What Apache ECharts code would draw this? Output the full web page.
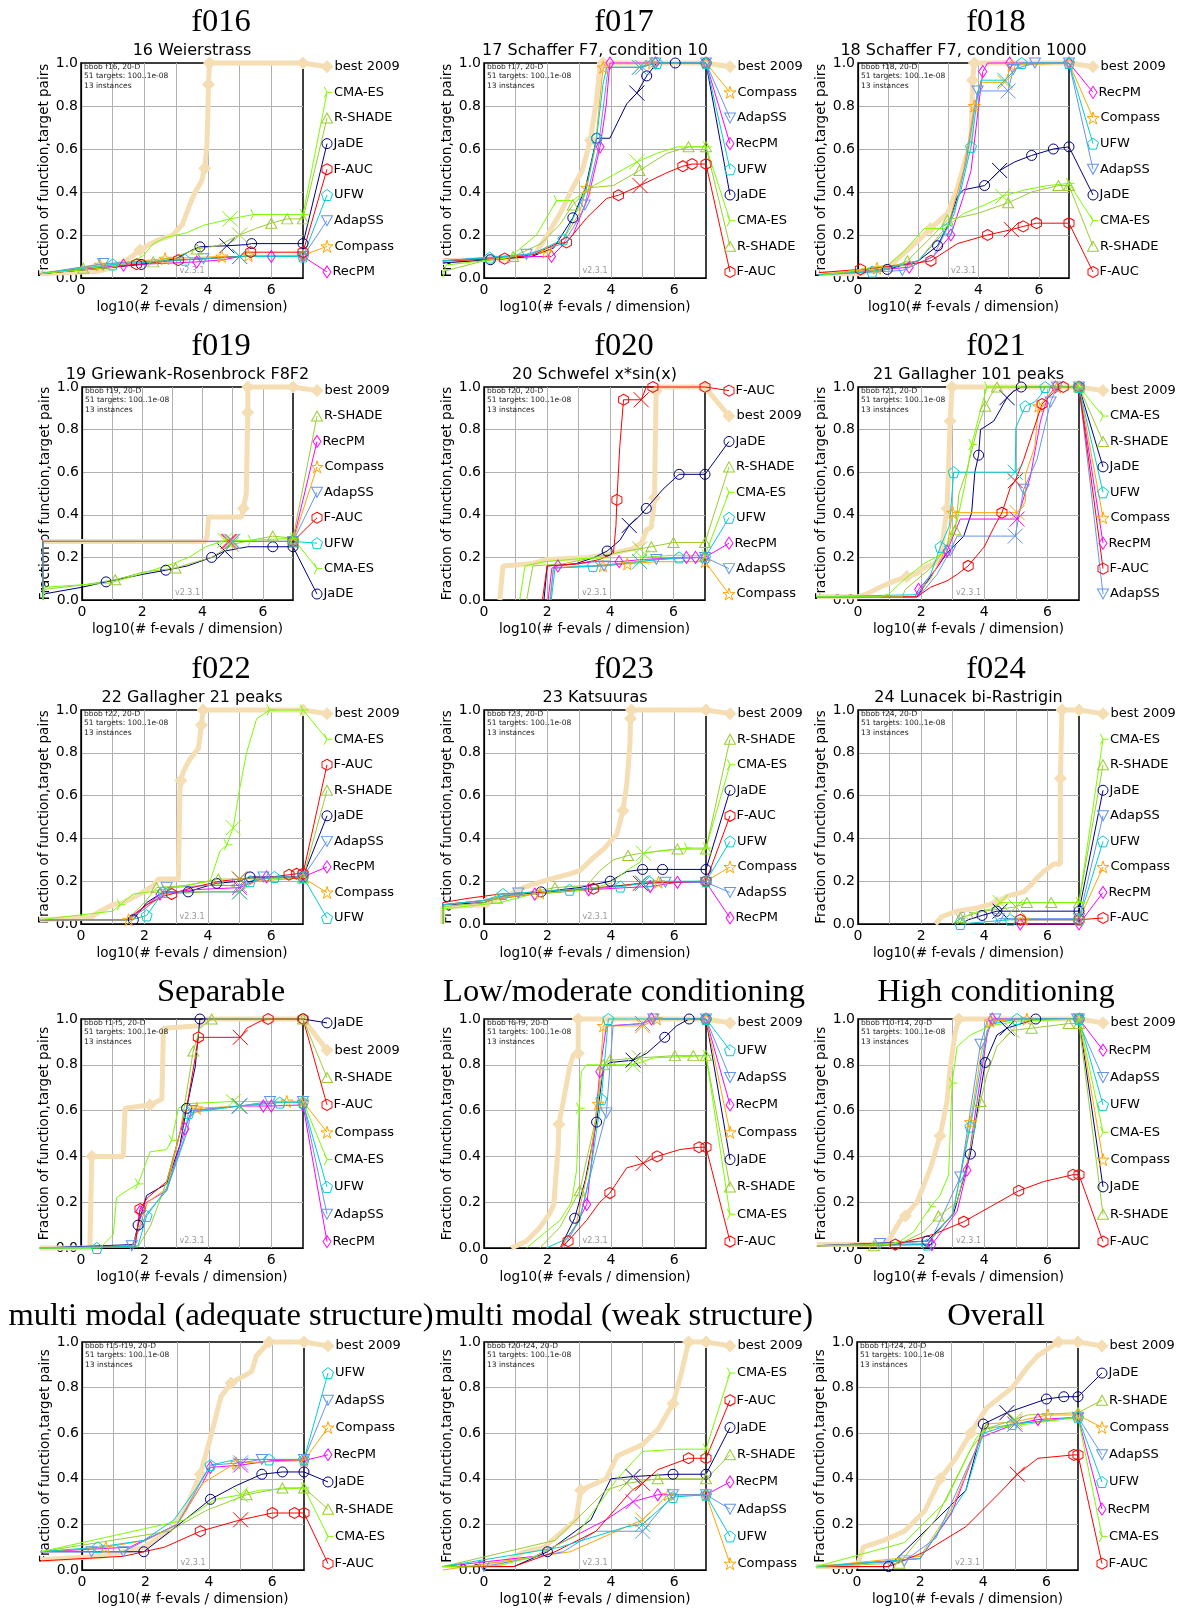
<!DOCTYPE html>
<html>
<head>
<meta charset="utf-8">
<title>bbob 20-D runtime distributions</title>
<script src="https://cdn.jsdelivr.net/npm/echarts@6/dist/echarts.min.js"></script>
<style>
  html, body { margin: 0; padding: 0; background: #fff; }
  #c { width: 1184px; height: 1612px; }
</style>
</head>
<body>
<div id="c"></div>
<script>
// ---------------------------------------------------------------------------
// Data. Every curve is a list of [log10(#f-evals / dimension), fraction, mark]
// where mark 1 = algorithm marker, mark 2 = budget cross.
// Curves of a panel are listed in the order of `algorithms`.
// ---------------------------------------------------------------------------
const algorithms = ['best 2009', 'JaDE', 'RecPM', 'Compass', 'AdapSS', 'F-AUC', 'R-SHADE', 'UFW', 'CMA-ES'];

const panelTitles = ['f016', 'f017', 'f018', 'f019', 'f020', 'f021', 'f022', 'f023', 'f024',
  'Separable', 'Low/moderate conditioning', 'High conditioning',
  'multi modal (adequate structure)', 'multi modal (weak structure)', 'Overall'];
const panelSubtitles = ['16 Weierstrass', '17 Schaffer F7, condition 10', '18 Schaffer F7, condition 1000',
  '19 Griewank-Rosenbrock F8F2', '20 Schwefel x*sin(x)', '21 Gallagher 101 peaks',
  '22 Gallagher 21 peaks', '23 Katsuuras', '24 Lunacek bi-Rastrigin', '', '', '', '', '', ''];
const panelInfo = ['bbob f16, 20-D', 'bbob f17, 20-D', 'bbob f18, 20-D', 'bbob f19, 20-D', 'bbob f20, 20-D',
  'bbob f21, 20-D', 'bbob f22, 20-D', 'bbob f23, 20-D', 'bbob f24, 20-D', 'bbob f1-f5, 20-D',
  'bbob f6-f9, 20-D', 'bbob f10-f14, 20-D', 'bbob f15-f19, 20-D', 'bbob f20-f24, 20-D', 'bbob f1-f24, 20-D'];
const targetsNote = '51 targets: 100..1e-08';
const instancesNote = '13 instances';
const versionNote = 'v2.3.1';
const xTicks = [0, 2, 4, 6];

const f016Curves = [
  [[-1.3,0.02],[0.5,0.03],[1.0,0.05],[1.5,0.09],[1.86,0.13,1],[2.2,0.16],[2.5,0.18],[2.9,0.2],[3.2,0.25],[3.4,0.33],[3.6,0.4],[3.8,0.45],[3.9,0.51,1],[3.97,0.62],[4.0,0.76],[4.02,0.9,1],[4.05,1,1],[7,1,1]],
  [[-1.3,0.02],[1.0,0.05],[1.9,0.063,1],[3.0,0.09],[3.5,0.13],[3.75,0.145,1],[4.6,0.15,2],[5.2,0.155],[5.38,0.16,1],[7,0.16,1]],
  [[-1.3,0.02],[1.34,0.06,1],[3.65,0.075,1],[4.5,0.085],[5.0,0.1,2],[6.0,0.1,1],[7,0.1,1]],
  [[-1.3,0.02],[0.6,0.062,1],[2.65,0.09,1],[4.44,0.1,1],[5.0,0.1,2],[5.28,0.105,1],[7,0.105,1]],
  [[-1.3,0.02],[0.7,0.067,1],[3.86,0.09,1],[5.0,0.1,2],[7,0.1,1]],
  [[-1.3,0.02],[1.0,0.05],[1.75,0.064,1],[3.07,0.083,1],[4.0,0.09],[5.0,0.1,2],[5.2,0.12],[5.35,0.12,1],[7,0.12,1]],
  [[-1.3,0.02],[0.07,0.045,1],[1.0,0.06],[2.28,0.075,1],[3.0,0.1],[3.65,0.135,1],[4.3,0.15],[5.0,0.2,2],[5.5,0.23],[6.0,0.255,1],[6.5,0.275,1],[7,0.275,1]],
  [[-1.3,0.02],[1.0,0.063,1],[3.28,0.085,1],[4.5,0.095],[5.0,0.1,2],[7,0.1,1]],
  [[-1.3,0.02],[1.0,0.05],[1.8,0.09],[1.97,0.105],[2.28,0.16],[2.7,0.19],[3.33,0.21],[3.86,0.245],[4.28,0.26],[4.7,0.275,2],[5.44,0.295,1],[7,0.295,1]]
];
const f016Order = ['best 2009', 'CMA-ES', 'R-SHADE', 'JaDE', 'F-AUC', 'UFW', 'AdapSS', 'Compass', 'RecPM'];

const f017Curves = [
  [[-1.3,0.08],[0.8,0.09],[1.6,0.11],[2.0,0.2],[2.4,0.3],[2.8,0.42],[3.1,0.5],[3.35,0.64,1],[3.55,0.83],[3.65,0.98],[3.75,1,1],[7,1,1]],
  [[-1.3,0.07],[0.2,0.085,1],[1.5,0.1],[2.2,0.14],[2.8,0.28,1],[3.2,0.42],[3.55,0.65,1],[3.97,0.65],[4.2,0.72],[4.5,0.81],[4.82,0.86,2],[5.13,0.94,1],[5.45,1],[6.03,1,1],[7,1,1]],
  [[-1.3,0.08],[1.0,0.1],[2.13,0.1,1],[2.8,0.2],[3.3,0.38],[3.66,0.61,1],[3.85,0.8],[3.97,1,1],[5.4,1,1],[7,1,1]],
  [[-1.3,0.08],[0.5,0.09],[1.97,0.12,1],[2.5,0.18],[3.0,0.3],[3.24,0.42,1],[3.5,0.6],[3.7,0.9],[3.76,0.98,1],[4.9,0.98,2],[5.3,1,1],[7,1,1]],
  [[-1.3,0.08],[1.34,0.11,1],[2.5,0.16],[3.0,0.28],[3.18,0.34,1],[3.6,0.6],[3.85,0.9],[3.92,0.98],[5.0,0.98,2],[5.4,1,1],[7,1,1]],
  [[-1.3,0.08],[0.65,0.09,1],[1.6,0.11],[2.29,0.16],[2.6,0.165,1],[3.24,0.28],[3.87,0.37],[4.24,0.385,1],[4.92,0.43,2],[5.77,0.49],[6.27,0.52,1],[6.56,0.53,1],[7,0.53,1]],
  [[-1.3,0.03],[0,0.08],[0.92,0.1,1],[1.8,0.16],[2.4,0.25],[2.8,0.34,1],[3.34,0.42],[4.08,0.43],[4.9,0.5,1],[5.77,0.58],[6.45,0.61,1],[7,0.61,1]],
  [[-1.3,0.08],[0.18,0.095,1],[1.5,0.11],[2.5,0.18,1],[3.2,0.4],[3.55,0.65,1],[3.75,0.9],[3.87,0.98],[4.9,0.98,2],[5.45,1,1],[7,1,1]],
  [[-1.3,0],[-1.2,0.06],[0.8,0.095],[1.65,0.2],[2.29,0.36,1],[2.8,0.36],[3.34,0.42],[4.08,0.48],[4.82,0.54,2],[5.45,0.58],[6.1,0.61],[7,0.61,1]]
];
const f017Order = ['best 2009', 'Compass', 'AdapSS', 'RecPM', 'UFW', 'JaDE', 'CMA-ES', 'R-SHADE', 'F-AUC'];

const f018Curves = [
  [[-1.3,0.02],[0,0.02],[1.0,0.05],[1.97,0.17],[2.4,0.23,1],[2.97,0.3],[3.3,0.42],[3.5,0.52],[3.75,0.64],[3.8,0.92,1],[3.86,1,1],[7,1,1]],
  [[-1.3,0.015],[0.97,0.04,1],[2.0,0.08],[2.64,0.15,1],[3.0,0.25],[3.3,0.38],[3.5,0.41],[4.2,0.43,1],[4.7,0.5,2],[5.2,0.54],[5.76,0.57,1],[6.48,0.6,1],[7,0.61,1]],
  [[-1.3,0.015],[1.7,0.05,1],[2.5,0.1],[3.08,0.2,1],[3.5,0.38],[3.75,0.5],[4.0,0.8],[4.14,0.96,1],[4.3,1],[5.03,1,1],[7,1,1]],
  [[-1.3,0.015],[0.63,0.045,1],[2.0,0.08],[3.0,0.25],[3.5,0.5],[3.86,0.8,1],[4.08,0.91],[4.87,0.91,2],[5.1,0.99,1],[7,1,1]],
  [[-1.3,0.015],[1.47,0.035,1],[2.5,0.1],[3.2,0.3],[3.6,0.55],[3.97,0.87,1],[4.98,0.87,2],[5.15,0.97,1],[5.87,1,1],[7,1,1]],
  [[-1.3,0.025],[0.08,0.04,1],[1.5,0.06],[2.42,0.08,1],[3.3,0.16],[4.3,0.2,1],[5.09,0.225,2],[5.48,0.24,1],[5.92,0.255,1],[7,0.255,1]],
  [[-1.3,0.015],[1.0,0.04],[1.64,0.08,1],[2.5,0.2],[2.97,0.27,1],[3.97,0.3],[4.98,0.35,1],[5.76,0.4],[6.65,0.43,1],[7,0.43,1]],
  [[-1.3,0.015],[0.47,0.03,1],[2.0,0.08],[2.97,0.23,1],[3.4,0.4],[3.75,0.61,1],[3.97,0.85],[4.08,0.92],[4.87,0.92,2],[5.43,1,1],[7,1,1]],
  [[-1.3,0.01],[1.0,0.06],[1.5,0.12],[2.2,0.23],[2.86,0.23],[3.5,0.3],[4.2,0.34],[4.8,0.38,2],[5.53,0.41],[6.3,0.43],[7,0.44,1]]
];
const f018Order = ['best 2009', 'RecPM', 'Compass', 'UFW', 'AdapSS', 'JaDE', 'CMA-ES', 'R-SHADE', 'F-AUC'];

const f019Curves = [
  [[-1.3,0.275],[4.1,0.275],[4.15,0.3],[4.2,0.39],[5.3,0.39],[5.35,0.43,1],[5.45,0.5],[5.5,0.88,1],[5.5,1,1],[7,1,1]],
  [[-1.3,0.02],[-1.2,0.03],[0,0.06],[0.8,0.085,1],[2.0,0.12],[2.78,0.14,1],[3.5,0.16],[4.3,0.2,1],[4.74,0.23,2],[5.5,0.25],[6.33,0.25,1],[7,0.25,1]],
  [[-1.3,0],[-1.3,0.275],[4.9,0.275,2],[7,0.275,1]],
  [[-1.3,0],[-1.3,0.275],[4.95,0.275,2],[7,0.275,1]],
  [[-1.3,0],[-1.3,0.275],[5.0,0.275,2],[7,0.275,1]],
  [[-1.3,0],[-1.3,0.275],[4.85,0.275,2],[7,0.275,1]],
  [[-1.3,0],[-1.25,0.05],[0,0.07],[1.1,0.095,1],[2.0,0.13],[3.1,0.15,1],[3.8,0.18],[4.3,0.2],[4.96,0.26,2],[5.6,0.28],[6.33,0.3,1],[7,0.29,1]],
  [[-1.3,0],[-1.3,0.275],[5.0,0.275,2],[7,0.275,1]],
  [[-1.3,0],[-1.25,0.06],[0.93,0.08],[2.0,0.125],[3.0,0.17],[3.55,0.2],[4.1,0.25],[4.74,0.28,2],[5.6,0.28,1],[7,0.29,1]]
];
const f019Order = ['best 2009', 'R-SHADE', 'RecPM', 'Compass', 'AdapSS', 'F-AUC', 'UFW', 'CMA-ES', 'JaDE'];

const f020Curves = [
  [[0.5,0],[0.6,0.16],[1.5,0.17],[2.0,0.19],[3.3,0.2],[4.1,0.22],[4.7,0.24],[5.0,0.27],[5.15,0.33],[5.3,0.34],[5.4,0.48,1],[5.45,0.98,1],[5.5,1],[7,1,1]],
  [[1.9,0],[2.0,0.16],[2.9,0.17],[3.5,0.2],[3.9,0.23,1],[4.3,0.28],[4.6,0.35,2],[4.9,0.39],[5.14,0.43,1],[5.67,0.52],[6.18,0.59,1],[7,0.59,1]],
  [[2.03,0],[2.15,0.15],[2.34,0.16,1],[3.5,0.18],[4.28,0.18,1],[5.0,0.19],[6.41,0.2,1],[6.7,0.2,1],[7,0.2,1]],
  [[2.08,0],[2.2,0.15],[3.0,0.16],[3.77,0.16,1],[4.54,0.17,1],[5.5,0.18],[7,0.18,1]],
  [[2.1,0],[2.2,0.15],[3.8,0.16,1],[4.9,0.18],[5.46,0.19,1],[7,0.2,1]],
  [[1.85,0],[2.0,0.16],[3.0,0.17],[3.66,0.19],[4.1,0.22],[4.18,0.35],[4.21,0.47,1],[4.3,0.72],[4.42,0.94,1],[4.98,0.94,2],[5.14,1],[5.35,1,1],[7,1,1]],
  [[1.35,0],[1.55,0.16],[2.5,0.17],[3.5,0.2],[4.5,0.23],[4.93,0.24,2],[5.3,0.25,1],[6.0,0.27,1],[7,0.27,1]],
  [[2.13,0],[2.25,0.15],[3.45,0.16,1],[4.93,0.18,2],[6.18,0.2,1],[7,0.2,1]],
  [[1.13,0],[1.3,0.16],[1.9,0.18],[3.14,0.195],[4.5,0.2],[5.0,0.2,2],[6.0,0.21],[7,0.21,1]]
];
const f020Order = ['F-AUC', 'best 2009', 'JaDE', 'R-SHADE', 'CMA-ES', 'UFW', 'RecPM', 'AdapSS', 'Compass'];

const f021Curves = [
  [[-1.3,0.015],[0,0.015],[0.3,0.03],[0.7,0.06],[1.0,0.08],[1.55,0.11,1],[1.87,0.125],[2.08,0.15],[2.4,0.17],[2.6,0.19],[2.82,0.43,1],[2.92,0.84,1],[2.98,1,1],[7,1,1]],
  [[-1.3,0.015],[1.87,0.015],[2.3,0.11],[2.82,0.22],[3.35,0.3],[3.6,0.41],[3.7,0.6],[3.82,0.68,1],[3.88,0.8],[4.3,0.84],[4.72,0.95,2],[4.93,0.98],[5.17,1,1],[7,1,1]],
  [[-1.3,0.015],[1.8,0.015],[1.92,0.05,1],[2.5,0.15],[2.82,0.23,1],[3.24,0.38],[5.04,0.38,2],[5.46,0.58],[5.78,0.84],[6.0,0.95],[6.25,1,1],[7,1,1]],
  [[-1.3,0.015],[1.8,0.015],[2.3,0.1],[2.82,0.25],[3.0,0.41,1],[5.04,0.41,2],[5.3,0.46],[5.31,0.59],[5.6,0.72],[5.72,0.91,1],[6.15,0.98],[6.3,1,1],[7,1,1]],
  [[-1.3,0.015],[1.92,0.015],[2.5,0.12],[2.92,0.23,1],[3.14,0.3],[4.98,0.3,2],[5.25,0.52,1],[5.67,0.66],[6.1,0.93,1],[6.3,1,1],[7,1,1]],
  [[-1.3,0.015],[1.87,0.015],[2.3,0.06],[2.82,0.09],[3.14,0.12],[3.49,0.16,1],[4.0,0.25],[4.3,0.34],[4.56,0.41,1],[4.83,0.53],[4.98,0.56,2],[5.25,0.66],[5.56,0.8],[5.83,0.92,1],[6.3,0.99],[6.5,1,1],[7,1,1]],
  [[-1.3,0.015],[1.4,0.015],[1.5,0.05],[2.3,0.15],[2.82,0.25],[3.08,0.33,1],[3.2,0.5],[3.45,0.61],[3.77,0.8],[4.03,0.91,1],[4.2,0.96],[4.4,1,1],[7,1,1]],
  [[-1.3,0.015],[1.87,0.025],[2.3,0.12],[2.61,0.25,1],[2.9,0.35],[3.03,0.6,1],[4.98,0.6,2],[5.0,0.81],[5.3,0.91,1],[5.6,0.93],[5.78,0.96],[5.93,1,1],[7,1,1]],
  [[-1.3,0.015],[0.7,0.015],[1.0,0.03],[1.34,0.08],[1.66,0.12],[2.08,0.17],[2.7,0.22],[3.14,0.37],[3.4,0.55],[3.6,0.73,1],[3.93,0.92],[4.09,1,1],[7,1,1]]
];
const f021Order = ['best 2009', 'CMA-ES', 'R-SHADE', 'JaDE', 'UFW', 'Compass', 'RecPM', 'F-AUC', 'AdapSS'];

const f022Curves = [
  [[-1.3,0.02],[0.3,0.03],[0.6,0.06],[1.0,0.09],[1.33,0.1],[1.86,0.14],[2.28,0.18],[2.44,0.21],[3.07,0.21],[3.12,0.63],[3.15,0.67,1],[3.22,0.71],[3.43,0.77],[3.7,0.82],[3.8,0.93,1],[3.85,1,1],[7,1,1]],
  [[-1.3,0.02],[1.4,0.02],[1.65,0.02,1],[2.07,0.1],[2.6,0.15],[3.38,0.15,1],[3.8,0.17],[4.28,0.19,1],[5.0,0.2],[5.33,0.22,1],[7,0.22,1]],
  [[-1.3,0.02],[1.5,0.02],[2.0,0.08],[2.49,0.14,1],[3.5,0.16],[5.0,0.17,2],[5.85,0.22,1],[7,0.22,1]],
  [[-1.3,0.02],[1.5,0.02,1],[2.0,0.07],[2.6,0.14],[4.0,0.15],[5.0,0.15,2],[5.5,0.2],[7,0.215,1]],
  [[-1.3,0.02],[1.5,0.02],[2.1,0.08],[2.7,0.17,1],[4.0,0.18],[5.0,0.18,2],[5.75,0.22,1],[7,0.22,1]],
  [[-1.3,0.02],[1.44,0.02],[2.07,0.09],[2.6,0.13],[2.86,0.14,1],[3.5,0.17],[4.38,0.2],[5.0,0.21,2],[6.0,0.22],[6.56,0.23,1],[6.8,0.235,1],[7,0.235,1]],
  [[-1.3,0.02],[1.44,0.02],[2.0,0.1],[2.38,0.17,1],[3.3,0.18],[4.33,0.21,1],[5.0,0.21,2],[7,0.215,1]],
  [[-1.3,0.02],[1.6,0.02],[2.07,0.04,1],[2.6,0.15,1],[4.0,0.15],[5.0,0.15,2],[5.33,0.2,1],[6.1,0.22,1],[7,0.22,1]],
  [[-1.3,0.02],[1.0,0.06],[1.23,0.09,1],[1.65,0.14],[2.17,0.15],[3.33,0.18],[4.07,0.2],[4.38,0.34],[4.6,0.37,1],[4.8,0.45,2],[5.0,0.63],[5.22,0.8],[5.54,0.96],[5.95,1,1],[7,1,1]]
];
const f022Order = ['best 2009', 'CMA-ES', 'F-AUC', 'R-SHADE', 'JaDE', 'AdapSS', 'RecPM', 'Compass', 'UFW'];

const f023Curves = [
  [[-1.3,0],[-1.3,0.08],[0,0.09],[0.07,0.1,1],[0.7,0.13],[1.23,0.17],[1.87,0.2],[2.6,0.23],[3.03,0.25],[3.45,0.31],[3.77,0.35],[4.19,0.42],[4.38,0.53,1],[4.5,0.65],[4.6,0.84],[4.62,0.96,1],[4.65,1,1],[7,1,1]],
  [[-1.3,0],[-1.3,0.09],[0,0.1],[0.6,0.13],[1.8,0.15,1],[3.0,0.17],[3.98,0.2,1],[4.5,0.245],[5.0,0.255,1],[5.63,0.255,1],[7,0.255,1]],
  [[-1.3,0],[-1.3,0.09],[0,0.11],[1.6,0.14,1],[3.3,0.16,1],[4.5,0.17],[5.24,0.175,1],[6.1,0.195,1],[7,0.195,1]],
  [[-1.3,0],[-1.3,0.09],[0,0.11],[1.76,0.145,1],[3.5,0.17],[5.0,0.19,2],[5.5,0.195,1],[7,0.2,1]],
  [[-1.3,0],[-1.3,0.09],[0,0.11],[1.08,0.145,1],[2.7,0.16],[4.5,0.18],[5.0,0.19,2],[5.72,0.195,1],[7,0.195,1]],
  [[-1.3,0],[-1.3,0.1],[-0.5,0.12],[0.5,0.14],[2.0,0.15],[3.45,0.165,1],[4.93,0.19,2],[7,0.2,1]],
  [[-1.3,0],[-1.3,0.08],[0,0.1],[0.4,0.12,1],[1.5,0.15],[2.24,0.17,1],[3.24,0.18],[3.66,0.25],[4.08,0.3],[4.54,0.32,1],[4.93,0.33],[6.1,0.35,1],[7,0.35,1]],
  [[-1.3,0],[-1.3,0.09],[0,0.11],[0.6,0.14,1],[2.7,0.16,1],[4.3,0.175,1],[5.0,0.19,2],[5.19,0.2,1],[7,0.2,1]],
  [[-1.3,0],[-1.3,0.07],[0.5,0.1],[1.55,0.14],[3.24,0.16],[3.98,0.19],[4.5,0.25],[4.93,0.29],[5.03,0.33,2],[5.45,0.34],[6.4,0.355,1],[7,0.355,1]]
];
const f023Order = ['best 2009', 'R-SHADE', 'CMA-ES', 'JaDE', 'F-AUC', 'UFW', 'Compass', 'AdapSS', 'RecPM'];

const f024Curves = [
  [[2.45,0],[2.66,0.035],[3.14,0.06],[3.77,0.075],[4.4,0.1,1],[4.72,0.13],[5.25,0.15],[5.46,0.18],[5.67,0.215],[5.88,0.245],[6.2,0.28],[6.41,0.28],[6.41,0.68,1],[6.46,1,1],[7,1,1]],
  [[3.24,0],[3.5,0.02],[3.93,0.04,1],[4.4,0.06,1],[4.5,0.06,2],[7,0.06,1]],
  [[5.14,0,1],[7,0,1]],
  [[4.6,0.02],[5.25,0.02,1],[7,0.02,1]],
  [[4.3,0],[4.46,0.025,1],[7,0.025,1]],
  [[5.14,0.02,1],[7,0.02,1]],
  [[3.14,0],[3.24,0.03,1],[3.98,0.06],[5.0,0.08,2],[5.35,0.1,1],[6.12,0.1,1],[7,0.1,1]],
  [[3.24,0,1],[4.0,0.01],[4.83,0.02,1],[7,0.02,1]],
  [[3.14,0],[3.56,0.05],[4.19,0.07],[4.5,0.1,2],[4.8,0.1],[7,0.1,1]]
];
const f024Order = ['best 2009', 'CMA-ES', 'R-SHADE', 'JaDE', 'AdapSS', 'UFW', 'Compass', 'RecPM', 'F-AUC'];

const separableCurves = [
  [[-1.3,0],[0.28,0],[0.34,0.4,1],[1.33,0.4],[1.39,0.61],[2.18,0.625,1],[2.55,0.65],[2.6,0.96],[3.75,0.97],[3.96,1],[7,1,1]],
  [[-1.3,0],[1.65,0.015],[1.8,0.1,1],[2.07,0.23],[2.7,0.28],[3.12,0.45],[3.33,0.61,1],[3.6,0.79],[3.75,1,1],[7,1,1]],
  [[-1.3,0],[1.7,0.005],[1.86,0.16,1],[2.07,0.2],[2.7,0.25],[3.28,0.52,1],[3.49,0.6],[5.0,0.62,2],[5.75,0.62,1],[6.0,0.62,1],[7,0.625,1]],
  [[-1.3,0],[1.6,0.005],[1.86,0.1],[2.1,0.2],[2.7,0.26],[3.12,0.5],[3.28,0.6],[3.65,0.61,1],[5.0,0.62,2],[6.49,0.64,1],[7,0.64,1]],
  [[-1.3,0],[1.6,0.01,1],[2.07,0.15],[2.7,0.25],[3.33,0.5],[3.49,0.6,1],[5.0,0.62,2],[5.96,0.64,1],[7,0.64,1]],
  [[-1.3,0],[1.7,0.005],[1.86,0.17,1],[2.1,0.22],[2.7,0.29],[3.33,0.61],[3.6,0.83],[3.7,0.92,1],[5.02,0.92,2],[5.23,0.96],[5.65,0.99],[5.9,1,1],[7,1,1]],
  [[-1.3,0],[1.8,0.005],[2.2,0.1],[2.7,0.29],[3.12,0.5],[3.54,0.86,1],[3.75,0.96],[4.12,1,1],[7,1,1]],
  [[-1.3,0],[0.5,0,1],[1.8,0.01],[2.07,0.14,1],[2.7,0.26],[3.23,0.47],[3.39,0.59,1],[5.0,0.62,2],[6.27,0.635,1],[7,0.635,1]],
  [[-1.3,0],[0.6,0],[1.02,0.06],[1.12,0.22],[1.44,0.25],[1.8,0.28,1],[2.18,0.42],[2.7,0.43],[2.86,0.47,1],[3.07,0.61],[3.33,0.63],[4.8,0.64,2],[7,0.64,1]]
];
const separableOrder = ['JaDE', 'best 2009', 'R-SHADE', 'F-AUC', 'Compass', 'CMA-ES', 'UFW', 'AdapSS', 'RecPM'];

const lowCondCurves = [
  [[0.86,0],[1.34,0.03],[1.76,0.09],[2.07,0.15],[2.2,0.19],[2.34,0.44],[2.36,0.54,1],[2.5,0.64],[2.7,0.79],[2.81,0.84],[2.97,0.85,1],[2.97,1,1],[7,1,1]],
  [[2.4,0],[2.86,0.13,1],[3.2,0.3],[3.55,0.55,1],[3.76,0.79],[3.97,0.81],[4.7,0.82,2],[5.13,0.85],[5.7,0.92,1],[6.07,0.97],[6.47,1,1],[7,1,1]],
  [[2.4,0],[2.9,0.1],[3.24,0.19,1],[3.45,0.45],[3.65,0.77,1],[3.86,0.97],[5.0,0.98,2],[5.28,1,1],[7,1,1]],
  [[2.4,0],[2.9,0.1],[3.3,0.35],[3.6,0.63,1],[3.76,0.97,1],[5.0,0.97,2],[5.45,1,1],[7,1,1]],
  [[2.5,0],[3.0,0.12],[3.5,0.4],[3.86,0.59,1],[3.97,0.79],[4.07,0.97],[5.0,0.98,2],[5.34,1,1],[7,1,1]],
  [[2.4,0],[2.65,0.03,1],[3.23,0.12],[3.65,0.2],[3.97,0.24,1],[4.5,0.35],[5.02,0.37,2],[5.46,0.4,1],[6.18,0.43],[6.78,0.44,1],[7,0.44,1]],
  [[1.76,0],[2.39,0.09],[3.02,0.25,1],[3.5,0.55],[3.76,0.8,1],[3.97,0.82,1],[4.9,0.83,2],[6.02,0.84,1],[6.6,0.84,1],[7,0.84,1]],
  [[1.97,0],[2.6,0.04],[3.02,0.12],[3.34,0.32],[3.7,0.65,1],[3.92,1,1],[7,1,1]],
  [[1.34,0],[1.86,0.06],[2.39,0.12],[2.76,0.2],[2.92,0.34],[3.0,0.61,1],[3.07,0.77],[3.23,0.8],[3.86,0.8],[4.7,0.8,2],[5.34,0.83],[7,0.84,1]]
];
const lowCondOrder = ['best 2009', 'UFW', 'AdapSS', 'RecPM', 'Compass', 'JaDE', 'R-SHADE', 'CMA-ES', 'F-AUC'];

const highCondCurves = [
  [[-1.3,0.015],[0.8,0.015],[1.0,0.04],[1.34,0.12],[1.5,0.14,1],[1.87,0.2],[2.3,0.35],[2.6,0.49,1],[2.82,0.64],[2.92,0.79],[3.08,0.94],[3.19,1,1],[7,1,1]],
  [[-1.3,0.01],[2.19,0.03,1],[3.03,0.15],[3.56,0.41,1],[4.03,0.81,1],[4.4,0.93],[4.72,0.96,2],[5.63,1,1],[7,1,1]],
  [[-1.3,0.01],[2.34,0.015,1],[3.14,0.16],[3.45,0.34,1],[3.77,0.64],[4.09,0.93],[4.25,1,1],[7,1,1]],
  [[-1.3,0.01],[2.2,0.02],[3.0,0.15],[3.56,0.55,1],[3.9,0.85],[4.19,0.99,1],[5.35,1,1],[7,1,1]],
  [[-1.3,0.01],[0.7,0.02,1],[2.3,0.03],[3.24,0.31,1],[3.88,0.89,1],[4.09,0.99],[4.35,1,1],[6.94,1,1],[7,1,1]],
  [[-1.3,0.01],[1.18,0.015,1],[2.4,0.06],[3.35,0.115,1],[4.19,0.18],[5.09,0.25,1],[5.88,0.29],[6.81,0.32,1],[7,0.32,1]],
  [[-1.3,0.01],[0.5,0.01,1],[1.5,0.03],[2.08,0.07],[2.55,0.14,1],[3.14,0.2],[3.5,0.4],[3.88,0.64,1],[4.09,0.76],[4.4,0.88],[4.88,0.95,2],[5.5,0.96,1],[6.67,0.98,1],[7,0.98,1]],
  [[-1.3,0.01],[2.19,0.015,1],[3.0,0.15],[3.56,0.53,1],[4.09,0.95],[4.3,0.98],[5.04,1,1],[7,1,1]],
  [[-1.3,0.01],[1.0,0.015],[1.34,0.03],[1.76,0.07],[2.3,0.18,1],[2.6,0.23],[2.87,0.32],[2.98,0.72,1],[3.14,0.88],[3.56,0.93],[4.19,0.97],[5.04,0.99],[7,1,1]]
];
const highCondOrder = ['best 2009', 'RecPM', 'AdapSS', 'UFW', 'CMA-ES', 'Compass', 'JaDE', 'R-SHADE', 'F-AUC'];

const adequateCurves = [
  [[-1.3,0.045],[0.65,0.06],[1.95,0.1],[2.75,0.17],[3.24,0.26],[3.73,0.42,1],[4.05,0.58],[4.38,0.76],[4.7,0.82,1],[5.35,0.87],[5.5,0.94],[5.9,1,1],[7,1,1]],
  [[-1.3,0.08],[1.95,0.08,1],[3.24,0.22],[4.05,0.31,1],[4.86,0.37],[5.67,0.42,1],[6.32,0.43,1],[7,0.43,1]],
  [[-1.3,0.08],[1.5,0.1],[3.0,0.2],[3.8,0.38],[4.05,0.45,1],[5.0,0.46,2],[6.0,0.48],[7,0.48,1]],
  [[-1.3,0.08],[0.75,0.1,1],[2.0,0.13],[3.0,0.2],[3.8,0.38],[4.86,0.47,1],[7,0.48,1]],
  [[-1.3,0.08],[0.3,0.08,1],[1.3,0.08,1],[3.0,0.2],[4.05,0.46],[5.0,0.47,2],[5.67,0.485,1],[7,0.485,1]],
  [[-1.3,0.04],[1.3,0.06],[2.6,0.1],[3.73,0.17,1],[5.0,0.22,2],[6.0,0.25,1],[6.7,0.25,1],[7,0.25,1]],
  [[-1.3,0.08],[2.75,0.17],[3.9,0.26],[5.19,0.33,1],[6.32,0.36,1],[7,0.36,1]],
  [[-1.3,0.08],[0.5,0.1,1],[1.95,0.13],[2.9,0.22],[3.57,0.35],[4.05,0.46,1],[4.86,0.485],[5.9,0.485,1],[7,0.485,1]],
  [[-1.3,0.08],[3.24,0.22],[4.2,0.31],[5.0,0.33,2],[5.6,0.35],[7,0.36,1]]
];
const adequateOrder = ['best 2009', 'UFW', 'AdapSS', 'Compass', 'RecPM', 'JaDE', 'R-SHADE', 'CMA-ES', 'F-AUC'];

const weakCurves = [
  [[0,0.02],[0.6,0.03],[1.26,0.08],[1.9,0.1],[2.9,0.22],[3.05,0.35,1],[3.85,0.4],[4.2,0.5],[5.0,0.55],[5.5,0.62],[5.96,0.73,1],[6.2,0.85],[6.45,1,1],[7,1,1]],
  [[-1.3,0.015],[0.94,0.015],[2.0,0.08,1],[3.37,0.22],[4.0,0.4],[4.7,0.41,2],[5.96,0.42,1],[7,0.42,1]],
  [[-1.3,0.015],[1.6,0.06],[3.85,0.22],[4.7,0.3,2],[5.48,0.33,1],[7,0.33,1]],
  [[-1.3,0],[2.72,0.08],[4.5,0.19],[5.0,0.22,2],[5.8,0.33,1],[7,0.33,1]],
  [[-1.3,0.015],[0,0.015,1],[2.5,0.08],[3.53,0.17],[5.0,0.17,2],[5.96,0.33,1],[7,0.33,1]],
  [[-1.3,0.015],[0.94,0.015],[2.24,0.08],[3.53,0.17],[4.67,0.35],[5.0,0.38,2],[5.48,0.44],[6.45,0.49,1],[7,0.49,1]],
  [[-1.3,0.015],[2.24,0.13],[3.85,0.35],[4.5,0.38,2],[5.48,0.4,1],[7,0.4,1]],
  [[-1.3,0.015],[2.4,0.1],[4.5,0.19],[5.0,0.2,2],[5.96,0.32,1],[7,0.33,1]],
  [[-1.3,0.015],[0.5,0.02],[1.6,0.06],[2.9,0.15],[4.2,0.4],[5.0,0.52],[6.1,0.53],[7,0.53,1]]
];
const weakOrder = ['best 2009', 'CMA-ES', 'F-AUC', 'JaDE', 'R-SHADE', 'RecPM', 'AdapSS', 'UFW', 'Compass'];

const overallCurves = [
  [[-1.3,0.015],[0,0.015],[0.2,0.1],[0.85,0.13],[1.5,0.17],[2.15,0.26],[2.64,0.4,1],[3.13,0.49],[3.6,0.6,1],[4.1,0.71],[4.92,0.8],[5.4,0.89],[5.73,0.94],[6.38,1,1],[7,1,1]],
  [[-1.3,0.015],[1.0,0.015,1],[2.15,0.17],[3.45,0.35],[4.0,0.64,1],[4.75,0.69,2],[6.0,0.75,1],[6.55,0.76,1],[7,0.76,1]],
  [[-1.3,0.015],[2.0,0.05],[3.0,0.25],[3.9,0.58],[5.0,0.64,2],[5.73,0.66,1],[7,0.67,1]],
  [[-1.3,0.015],[2.0,0.06],[3.0,0.27],[4.1,0.64],[5.0,0.65,2],[6.05,0.68,1],[7,0.68,1]],
  [[-1.3,0.015],[1.5,0.04,1],[2.5,0.14],[3.5,0.45],[4.1,0.62],[5.0,0.64,2],[7,0.67,1]],
  [[-1.3,0.015],[1.0,0.015],[2.15,0.08],[3.45,0.19],[4.6,0.35],[5.08,0.42,2],[5.73,0.49],[6.87,0.505,1],[7,0.505,1]],
  [[-1.3,0.015],[1.34,0.03,1],[2.48,0.22],[3.6,0.53],[4.1,0.62,1],[5.0,0.66,2],[5.4,0.68],[7,0.69,1]],
  [[-1.3,0.015],[2.0,0.05],[3.45,0.35],[4.0,0.6],[4.92,0.64,1],[7,0.67,1]],
  [[-1.3,0.015],[1.5,0.12],[2.8,0.3],[3.78,0.58],[4.1,0.62],[5.4,0.64],[7,0.67,1]]
];
const overallOrder = ['best 2009', 'JaDE', 'R-SHADE', 'Compass', 'AdapSS', 'UFW', 'RecPM', 'CMA-ES', 'F-AUC'];

const panelCurves = [f016Curves, f017Curves, f018Curves, f019Curves, f020Curves, f021Curves,
  f022Curves, f023Curves, f024Curves, separableCurves, lowCondCurves, highCondCurves,
  adequateCurves, weakCurves, overallCurves];
const panelOrders = [f016Order, f017Order, f018Order, f019Order, f020Order, f021Order,
  f022Order, f023Order, f024Order, separableOrder, lowCondOrder, highCondOrder,
  adequateOrder, weakOrder, overallOrder];

// ---------------------------------------------------------------------------
// Layout and styling
// ---------------------------------------------------------------------------
// plot frame of each panel: [left, top, width, height] in px
const panelRects = [
  [81, 63, 222, 215], [484, 63, 222, 215], [858, 63, 211, 215],
  [82, 387, 211, 213], [484, 387, 221, 213], [858, 387, 221, 213],
  [81, 710, 222, 214], [484, 710, 222, 214], [858, 710, 221, 214],
  [81, 1019, 222, 229], [484, 1019, 222, 229], [858, 1019, 221, 229],
  [82, 1342, 222, 228], [484, 1342, 222, 228], [857, 1342, 221, 228]
];
const columnTitleX = [221, 624, 996];
const rowTitleY = [22, 346, 669, 992, 1316];

// the curves run past the frame (left start, legend connectors on the right),
// so they live on a wider, invisible coordinate system with the same scale
const X_EXT = [-1.5, 8.5], Y_EXT = [-0.1, 1.1];

const STAR = 'path://M0,-1L0.225,-0.309L0.951,-0.309L0.363,0.118L0.588,0.809L0,0.382L-0.588,0.809L-0.363,0.118L-0.951,-0.309L-0.225,-0.309Z';
const HEXAGON = 'path://M0,-1L0.866,-0.5L0.866,0.5L0,1L-0.866,0.5L-0.866,-0.5Z';
const PENTAGON = 'path://M0,-1L0.951,-0.309L0.588,0.809L-0.588,0.809L-0.951,-0.309Z';
const TRI_DOWN = 'path://M-1,-1L1,-1L0,1Z';
const TRI_UP = 'path://M0,-1L1,1L-1,1Z';
const TRI_RIGHT = 'path://M-1,0M0,0L1,0M0,0L-0.5,-0.866M0,0L-0.5,0.866';
const CROSS = 'path://M-1,-1L1,1M-1,1L1,-1';

const styles = {
  'best 2009': { color: '#f5deb3', width: 5, symbol: 'diamond', size: [12, 12], fill: true },
  'JaDE':      { color: '#000080', width: 1, symbol: 'circle', size: [10, 10] },
  'RecPM':     { color: '#ff00ff', width: 1, symbol: 'diamond', size: [8, 12] },
  'Compass':   { color: '#ffa500', width: 1, symbol: STAR, size: [12, 12] },
  'AdapSS':    { color: '#6495ed', width: 1, symbol: TRI_DOWN, size: [11, 10] },
  'F-AUC':     { color: '#ff0000', width: 1, symbol: HEXAGON, size: [10, 11] },
  'R-SHADE':   { color: '#9acd32', width: 1, symbol: TRI_UP, size: [11, 10] },
  'UFW':       { color: '#00ced1', width: 1, symbol: PENTAGON, size: [11, 11] },
  'CMA-ES':    { color: '#7cfc00', width: 1, symbol: TRI_RIGHT, size: [11, 11] }
};
const FONT = 'DejaVu Sans';
const LABEL_TOP = 0.983, LABEL_BOTTOM = 0.028;
const N = panelRects.length;

const grids = [], xAxes = [], yAxes = [], series = [], graphics = [];

panelRects.forEach((rect, k) => {
  const [l, t, w, h] = rect;
  const row = Math.floor(k / 3), col = k % 3;
  const ppx = w / 7, ppy = h;

  // visible frame with grid lines, ticks and axis names
  grids[k] = { left: l, top: t, width: w, height: h, show: true,
    borderColor: '#000', borderWidth: 1.5, backgroundColor: 'transparent' };
  xAxes[k] = {
    gridIndex: k, type: 'value', min: 0, max: 7, interval: 1,
    name: 'log10(# f-evals / dimension)', nameLocation: 'middle', nameGap: 22,
    nameTextStyle: { fontSize: 13.5, fontFamily: FONT, color: '#000' },
    axisLine: { show: true, lineStyle: { color: '#000', width: 1.2 } },
    axisTick: { show: false },
    axisLabel: { fontSize: 14, fontFamily: FONT, color: '#000', margin: 5,
      formatter: v => (xTicks.indexOf(v) >= 0 ? String(v) : '') },
    splitLine: { show: true, showMinLine: false, showMaxLine: false,
      lineStyle: { color: '#b0b0b0', width: 1 } }
  };
  yAxes[k] = {
    gridIndex: k, type: 'value', min: 0, max: 1, interval: 0.2,
    name: 'Fraction of function,target pairs', nameLocation: 'middle', nameGap: 27, nameRotate: 90,
    nameTextStyle: { fontSize: 13.5, fontFamily: FONT, color: '#000' },
    axisLine: { show: true, lineStyle: { color: '#000', width: 1.2 } },
    axisTick: { show: false },
    axisLabel: { fontSize: 14, fontFamily: FONT, color: '#000', margin: 3,
      formatter: v => v.toFixed(1) },
    splitLine: { show: true, showMinLine: false, showMaxLine: false,
      lineStyle: { color: '#b0b0b0', width: 1 } }
  };

  // wider drawing area for the curves, same px per unit as the frame
  const g = N + k;
  grids[g] = {
    left: l + X_EXT[0] * ppx, width: (X_EXT[1] - X_EXT[0]) * ppx,
    top: t - (Y_EXT[1] - 1) * ppy, height: (Y_EXT[1] - Y_EXT[0]) * ppy,
    show: false
  };
  xAxes[g] = { gridIndex: g, type: 'value', min: X_EXT[0], max: X_EXT[1], show: false,
    splitLine: { show: false } };
  yAxes[g] = { gridIndex: g, type: 'value', min: Y_EXT[0], max: Y_EXT[1], show: false,
    splitLine: { show: false } };

  // curves with their legend connectors
  const curves = panelCurves[k];
  const order = panelOrders[k];
  const labelX = 7 + 24 / ppx;
  const step = (LABEL_TOP - LABEL_BOTTOM) / (order.length - 1);
  algorithms.forEach((name, i) => {
    const st = styles[name];
    const rank = order.indexOf(name);
    const labelY = LABEL_TOP - rank * step;
    const data = curves[i].map(pt => {
      const flag = pt[2] || 0;
      if (flag === 1) return { value: [pt[0], pt[1]], symbol: st.symbol, symbolSize: st.size };
      if (flag === 2) return { value: [pt[0], pt[1]], symbol: CROSS, symbolSize: 15 };
      return { value: [pt[0], pt[1]], symbol: 'none' };
    });
    data.push({
      value: [labelX, labelY], symbol: st.symbol, symbolSize: st.size,
      label: { show: true, position: 'right', distance: 1, formatter: name,
        fontSize: 13, fontFamily: FONT, color: '#000' }
    });
    series.push({
      type: 'line', name: name + ' ' + panelTitles[k],
      xAxisIndex: g, yAxisIndex: g, clip: false, silent: true, animation: false,
      showSymbol: true, showAllSymbol: true, z: name === 'best 2009' ? 2 : 3,
      lineStyle: { color: st.color, width: st.width },
      itemStyle: { color: st.fill ? st.color : 'rgba(0,0,0,0)', borderColor: st.color, borderWidth: 1 },
      emphasis: { disabled: true },
      data
    });
  });

  // texts: panel title, function name, run information, version stamp
  const txt = (x, y, text, font, fill, align, vAlign) => ({
    type: 'text', x, y, silent: true, z: 10,
    style: { text, font, fill, align, verticalAlign: vAlign, textAlign: align, textVerticalAlign: vAlign }
  });
  graphics.push(txt(columnTitleX[col], rowTitleY[row], panelTitles[k], '32.5px "Liberation Serif"', '#000', 'center', 'middle'));
  if (panelSubtitles[k]) {
    graphics.push(txt(l + w / 2, t - 12.5, panelSubtitles[k], '16px "DejaVu Sans"', '#000', 'center', 'middle'));
  }
  graphics.push(txt(l + 3, t + 4, panelInfo[k], '7.5px "DejaVu Sans"', '#222', 'left', 'middle'));
  graphics.push(txt(l + 3, t + 13.3, targetsNote, '7.5px "DejaVu Sans"', '#222', 'left', 'middle'));
  graphics.push(txt(l + 3, t + 22.6, instancesNote, '7.5px "DejaVu Sans"', '#222', 'left', 'middle'));
  graphics.push(txt(l + w / 2, t + h - 7, versionNote, '8px "DejaVu Sans"', '#999', 'center', 'middle'));
});

const chart = echarts.init(document.getElementById('c'), null, { renderer: 'canvas', width: 1184, height: 1612 });
chart.setOption({
  backgroundColor: '#fff',
  animation: false,
  textStyle: { fontFamily: FONT },
  grid: grids,
  xAxis: xAxes,
  yAxis: yAxes,
  series: series,
  graphic: graphics
});
</script>
</body>
</html>
